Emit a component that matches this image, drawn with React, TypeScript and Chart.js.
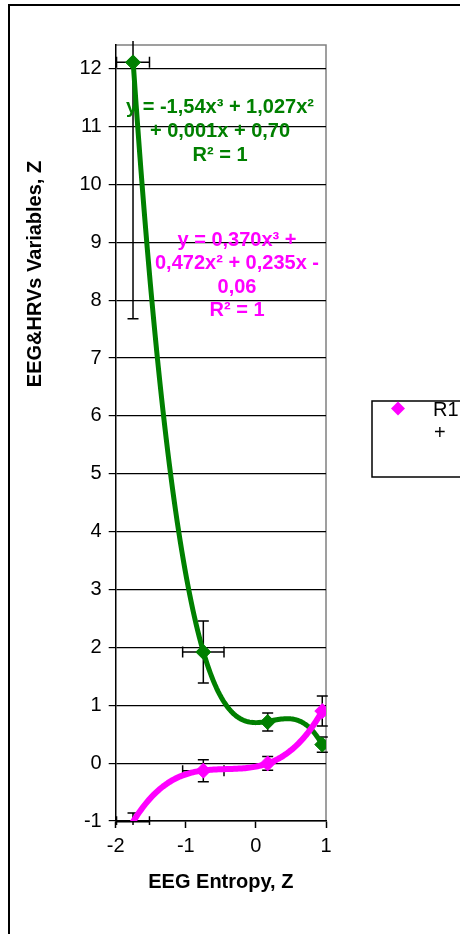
import { useEffect, useRef } from "react";
import { Chart, registerables } from "chart.js";

Chart.register(...registerables);

// Measured points (EEG entropy vs. HRV variables, z-scores)
const entropyX = [-1.753, -0.75, 0.168, 0.947];
const greenY = [12.11, 1.92, 0.71, 0.32];
const magentaY = [-1.015, -0.13, -0.005, 0.9];

// Error bar half-widths
const greenXErr = [0.235, 0.295, 0, 0];
const greenYErr = [4.43, 0.535, 0.155, 0.13];
const magentaXErr = [0.235, 0.295, 0, 0];
const magentaYErr = [0.155, 0.19, 0.12, 0.26];

// Cubic trendline coefficients: [x³, x², x, constant]
const greenCoef = [-1.54, 1.027, 0.001, 0.7];
const magentaCoef = [0.37, 0.472, 0.235, -0.06];

const xTicks = [-2, -1, 0, 1];
const yTicks = [-1, 0, 1, 2, 3, 4, 5, 6, 7, 8, 9, 10, 11, 12];

const greenLabel = ["y = -1,54x³ + 1,027x²", "+ 0,001x + 0,70", "R² = 1"];
const magentaLabel = ["y = 0,370x³ +", "0,472x² + 0,235x -", "0,06", "R² = 1"];
const legendLines = ["R1", "+"];

const xTitle = "EEG Entropy, Z";
const yTitle = "EEG&HRVs Variables, Z";

const GREEN = "#008000";
const MAGENTA = "#FF00FF";
const FONT = "'Liberation Sans', Arial, sans-serif";
const Y_MIN = -1;
const Y_MAX = 12.41;

function cubic(c: number[], x: number) {
  return ((c[0] * x + c[1]) * x + c[2]) * x + c[3];
}

function trendPoints(c: number[], x0: number, x1: number) {
  const pts: { x: number; y: number }[] = [];
  const n = 120;
  for (let i = 0; i <= n; i++) {
    const x = x0 + ((x1 - x0) * i) / n;
    pts.push({ x, y: cubic(c, x) });
  }
  return pts;
}

const errorBarPlugin = {
  id: "errorBars",
  beforeDatasetsDraw(chart: any) {
    const { ctx, chartArea, scales } = chart;
    const xs = scales.x;
    const ys = scales.y;
    const groups = [
      { ys: greenY, xe: greenXErr, ye: greenYErr },
      { ys: magentaY, xe: magentaXErr, ye: magentaYErr },
    ];
    const cap = 5.5;
    ctx.save();
    ctx.beginPath();
    ctx.rect(chartArea.left - 2, chartArea.top - 4, chartArea.right - chartArea.left + 4, chartArea.bottom - chartArea.top + 8);
    ctx.clip();
    ctx.strokeStyle = "#000";
    ctx.lineWidth = 1.5;
    groups.forEach((g) => {
      entropyX.forEach((xv, i) => {
        const px = xs.getPixelForValue(xv);
        const py = ys.getPixelForValue(g.ys[i]);
        ctx.beginPath();
        if (g.ye[i] > 0) {
          const top = ys.getPixelForValue(g.ys[i] + g.ye[i]);
          const bot = ys.getPixelForValue(g.ys[i] - g.ye[i]);
          ctx.moveTo(px, top);
          ctx.lineTo(px, bot);
          ctx.moveTo(px - cap, top);
          ctx.lineTo(px + cap, top);
          ctx.moveTo(px - cap, bot);
          ctx.lineTo(px + cap, bot);
        }
        if (g.xe[i] > 0) {
          const l = xs.getPixelForValue(xv - g.xe[i]);
          const r = xs.getPixelForValue(xv + g.xe[i]);
          ctx.moveTo(l, py);
          ctx.lineTo(r, py);
          ctx.moveTo(l, py - cap);
          ctx.lineTo(l, py + cap);
          ctx.moveTo(r, py - cap);
          ctx.lineTo(r, py + cap);
        }
        ctx.stroke();
      });
    });
    ctx.restore();
  },
};

const decorPlugin = {
  id: "decor",
  beforeDraw(chart: any) {
    const { ctx, chartArea } = chart;
    ctx.save();
    // outer chart frame
    ctx.strokeStyle = "#000";
    ctx.lineWidth = 2;
    ctx.strokeRect(9, 5, 480, 960);
    // plot frame, top and right
    ctx.strokeStyle = "#808080";
    ctx.lineWidth = 1.5;
    ctx.beginPath();
    ctx.moveTo(chartArea.left, chartArea.top);
    ctx.lineTo(chartArea.right, chartArea.top);
    ctx.lineTo(chartArea.right, chartArea.bottom);
    ctx.stroke();
    ctx.restore();
  },
  afterDraw(chart: any) {
    const { ctx, chartArea } = chart;
    ctx.save();
    ctx.textAlign = "center";
    ctx.textBaseline = "middle";
    ctx.fillStyle = "#000";
    ctx.font = `bold 20px ${FONT}`;
    ctx.fillText(xTitle, (chartArea.left + chartArea.right) / 2, 882);
    ctx.save();
    ctx.translate(35, 274);
    ctx.rotate(-Math.PI / 2);
    ctx.fillText(yTitle, 0, 0);
    ctx.restore();

    // trendline equations
    ctx.fillStyle = GREEN;
    greenLabel.forEach((t, i) => ctx.fillText(t, 220, 107 + i * 24));
    ctx.fillStyle = MAGENTA;
    magentaLabel.forEach((t, i) => ctx.fillText(t, 237, 240 + i * 23.5));

    // legend box
    ctx.strokeStyle = "#000";
    ctx.lineWidth = 1.5;
    ctx.strokeRect(372, 401, 120, 76);
    ctx.fillStyle = MAGENTA;
    ctx.beginPath();
    ctx.moveTo(398, 401.5);
    ctx.lineTo(405, 408.5);
    ctx.lineTo(398, 415.5);
    ctx.lineTo(391, 408.5);
    ctx.closePath();
    ctx.fill();
    ctx.fillStyle = "#000";
    ctx.textAlign = "left";
    ctx.font = `20px ${FONT}`;
    ctx.fillText(legendLines[0], 433, 410);
    ctx.fillText(legendLines[1], 434, 433);
    ctx.restore();
  },
};

export default function App() {
  const canvasRef = useRef<HTMLCanvasElement | null>(null);

  useEffect(() => {
    const canvas = canvasRef.current;
    if (!canvas) return;
    const hideBelow = (c: any) => (c.raw && c.raw.y < Y_MIN ? 0 : 7.5);
    const chart = new Chart(canvas, {
      type: "scatter",
      data: {
        datasets: [
          {
            label: "R1",
            data: entropyX.map((x, i) => ({ x, y: magentaY[i] })),
            showLine: false,
            pointStyle: "rectRot",
            pointRadius: hideBelow,
            backgroundColor: MAGENTA,
            borderColor: MAGENTA,
            borderWidth: 1,
          },
          {
            label: "R2",
            data: entropyX.map((x, i) => ({ x, y: greenY[i] })),
            showLine: false,
            pointStyle: "rectRot",
            pointRadius: hideBelow,
            backgroundColor: GREEN,
            borderColor: GREEN,
            borderWidth: 1,
          },
          {
            label: "R1 trend",
            data: trendPoints(magentaCoef, entropyX[0], entropyX[entropyX.length - 1]),
            showLine: true,
            pointRadius: 0,
            borderColor: MAGENTA,
            borderWidth: 6,
            tension: 0,
            borderJoinStyle: "round",
            borderCapStyle: "round",
          },
          {
            label: "R2 trend",
            data: trendPoints(greenCoef, entropyX[0], entropyX[entropyX.length - 1]),
            showLine: true,
            pointRadius: 0,
            borderColor: GREEN,
            borderWidth: 5,
            tension: 0,
            borderJoinStyle: "round",
            borderCapStyle: "round",
          },
        ],
      },
      options: {
        animation: false,
        responsive: false,
        devicePixelRatio: 1,
        layout: { padding: { left: 0, top: 45, right: 134, bottom: 0 } },
        plugins: { legend: { display: false }, tooltip: { enabled: false } },
        scales: {
          x: {
            type: "linear",
            min: -2,
            max: 1,
            afterBuildTicks: (s: any) => {
              s.ticks = xTicks.map((v) => ({ value: v }));
            },
            afterFit: (s: any) => {
              s.height = 113;
            },
            ticks: {
              color: "#000",
              font: { family: FONT, size: 20 },
              padding: 6,
              maxRotation: 0,
            },
            grid: {
              drawOnChartArea: false,
              tickLength: 7,
              tickColor: "#000",
              tickWidth: 1.5,
            },
            border: { color: "#000", width: 1.5 },
          },
          y: {
            type: "linear",
            min: Y_MIN,
            max: Y_MAX,
            afterBuildTicks: (s: any) => {
              s.ticks = yTicks.map((v) => ({ value: v }));
            },
            afterFit: (s: any) => {
              s.width = 115.7;
            },
            ticks: {
              color: "#000",
              font: { family: FONT, size: 20 },
              padding: 7,
            },
            grid: {
              color: "#000",
              lineWidth: 1.2,
              tickLength: 7,
              tickColor: "#000",
              tickWidth: 1.2,
            },
            border: { color: "#000", width: 1.5 },
          },
        },
      },
      plugins: [errorBarPlugin, decorPlugin],
    } as any);
    return () => chart.destroy();
  }, []);

  return (
    <div
      style={{
        position: "fixed",
        left: 0,
        top: 0,
        width: 460,
        height: 934,
        overflow: "hidden",
        background: "#fff",
      }}
    >
      <canvas ref={canvasRef} width={460} height={934} style={{ display: "block" }} />
    </div>
  );
}
